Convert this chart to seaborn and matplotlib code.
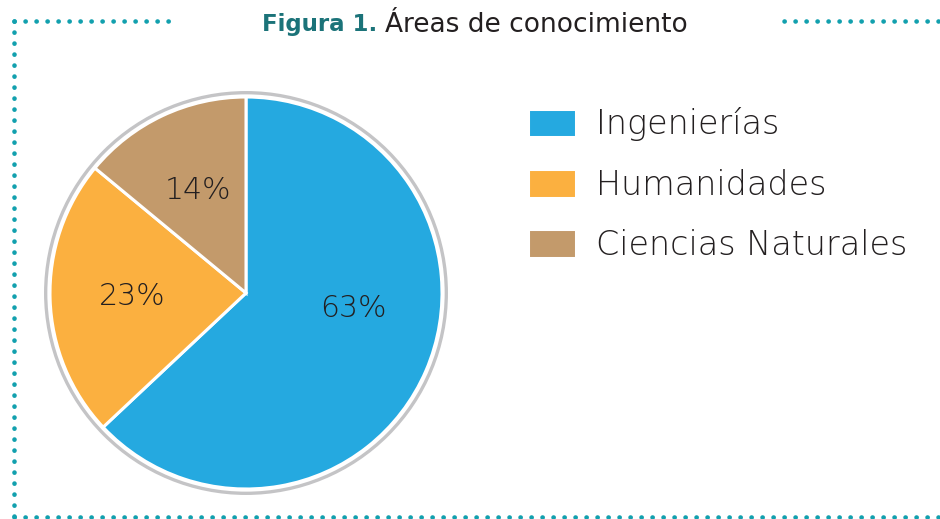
import matplotlib
matplotlib.use("Agg")
import matplotlib.pyplot as plt
from matplotlib.lines import Line2D
from matplotlib.patches import Circle
import seaborn as sns

# data
areas = ["Ingenierías", "Humanidades", "Ciencias Naturales"]
porcentajes = [63, 23, 14]
colores = ["#25A9E0", "#FBB040", "#C39A6B"]

sns.set_theme(style="white")
plt.rcParams["font.family"] = ["DejaVu Sans"]

W, H = 940, 519
fig = plt.figure(figsize=(W / 100, H / 100), dpi=100)
fig.patch.set_facecolor("white")


def fx(px):
    return px / W


def fy(py):
    return 1 - py / H


# pie axes: centre (246, 293) px, radius 1 -> 196 px
cx, cy, R, half = 246, 293, 196, 215
ax = fig.add_axes([fx(cx - half), fy(cy + half), 2 * half / W, 2 * half / H])
wedges, _, autotexts = ax.pie(
    porcentajes,
    colors=sns.color_palette(colores),
    startangle=90,
    counterclock=False,
    autopct=lambda p: f"{p:.0f}%",
    pctdistance=0.58,
    wedgeprops=dict(edgecolor="white", linewidth=2.2),
    textprops=dict(fontsize=21.5, color="#231F20", fontweight="light"),
)
# designer nudged the big label toward the centre line
autotexts[0].set_position((0.55, -0.08))
ax.add_patch(Circle((0, 0), 1.022, fill=False, edgecolor="#C4C4C6", linewidth=2.4))
lim = half / R
ax.set_xlim(-lim, lim)
ax.set_ylim(-lim, lim)
ax.set_aspect("equal")
ax.axis("off")

# legend
leg = fig.legend(
    wedges,
    areas,
    loc="upper left",
    bbox_to_anchor=(fx(515), fy(94)),
    frameon=False,
    fontsize=24,
    handlelength=1.42,
    handleheight=0.95,
    handletextpad=0.6,
    labelspacing=0.82,
    borderaxespad=0,
)
for t in leg.get_texts():
    t.set_color("#231F20")
    t.set_fontweight("light")

# title
fig.text(fx(377), fy(25), "Figura 1.", ha="right", va="center",
         fontsize=16.5, fontweight="bold", color="#1B7379")
fig.text(fx(385), fy(25), "Áreas de conocimiento", ha="left", va="center",
         fontsize=19, color="#231F20")

# dotted frame
dot = dict(color="#12A0AE", linewidth=3.3, dash_capstyle="round",
           solid_capstyle="round", linestyle=(0, (0.05, 2.35)),
           transform=fig.transFigure)
segs = [
    ((14, 177), (21, 21)),
    ((784, 945), (21, 21)),
    ((14, 14), (21, 517)),
    ((14, 945), (517, 517)),
]
for xs, ys in segs:
    fig.add_artist(Line2D([fx(x) for x in xs], [fy(y) for y in ys], **dot))

fig.savefig("out.png", dpi=100)
